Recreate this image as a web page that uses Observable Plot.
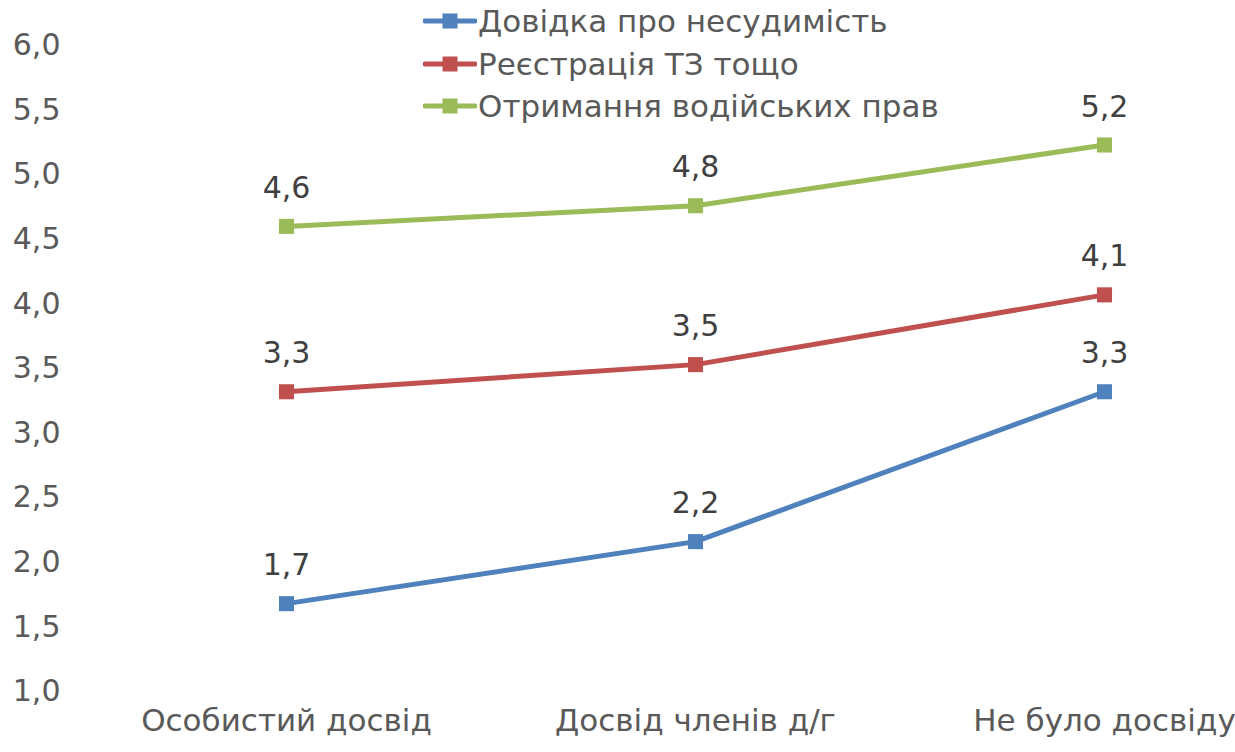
<!DOCTYPE html>
<html>
<head>
<meta charset="utf-8">
<script src="https://cdn.jsdelivr.net/npm/d3@7"></script>
<script src="https://cdn.jsdelivr.net/npm/@observablehq/plot@0.6"></script>
<style>
  html, body { margin: 0; padding: 0; background: #fff; }
  #wrap { position: relative; width: 1235px; height: 752px; overflow: hidden; }
  #legend { position: absolute; left: 423px; top: 0; font-family: "DejaVu Sans", sans-serif; font-size: 31px; color: #595959; }
  .row { display: flex; align-items: center; height: 42.5px; }
  .row svg { margin-right: 1px; }
</style>
</head>
<body>
<div id="wrap"><div id="legend"></div></div>
<script>
const categories = ["Особистий досвід", "Досвід членів д/г", "Не було досвіду"];
const seriesNames = ["Довідка про несудимість", "Реєстрація ТЗ тощо", "Отримання водійських прав"];
const certificate = [1.68, 2.16, 3.32];
const vehicleReg = [3.32, 3.53, 4.07];
const license = [4.60, 4.76, 5.23];
const yTicks = [1.0, 1.5, 2.0, 2.5, 3.0, 3.5, 4.0, 4.5, 5.0, 5.5, 6.0];
const colors = ["#4F81BD", "#C0504D", "#9BBB59"];

const FONT = "DejaVu Sans, sans-serif";
const fmt = d => d.toFixed(1).replace(".", ",");

const seriesValues = [certificate, vehicleReg, license];
const data = [];
seriesNames.forEach((s, i) => categories.forEach((c, j) => data.push({series: s, cat: c, value: seriesValues[i][j]})));

const chart = Plot.plot({
  width: 1235,
  height: 752,
  marginTop: 45,
  marginBottom: 61,
  marginLeft: 62,
  marginRight: 0,
  style: {fontFamily: FONT, fontSize: "30px", color: "#595959", background: "white"},
  x: {type: "point", domain: categories, range: [285, 1104], padding: 0, label: null},
  y: {domain: [1, 6], label: null},
  color: {domain: seriesNames, range: colors},
  marks: [
    Plot.axisY({ticks: yTicks, tickSize: 0, tickPadding: 2, tickFormat: fmt, label: null, fill: "#595959", fontSize: 30}),
    Plot.axisX({tickSize: 0, tickPadding: 17, label: null, fill: "#595959", fontSize: 31}),
    Plot.line(data, {x: "cat", y: "value", z: "series", stroke: "series", strokeWidth: 5}),
    Plot.dot(data, {x: "cat", y: "value", fill: "series", symbol: "square", r: 8.5}),
    Plot.text(data, {x: "cat", y: "value", text: d => fmt(d.value), dy: -38, fill: "#404040", fontSize: 30})
  ]
});
document.getElementById("wrap").prepend(chart);

const legend = document.getElementById("legend");
seriesNames.forEach((s, i) => {
  const row = document.createElement("div");
  row.className = "row";
  row.innerHTML = `<svg width="54" height="20"><line x1="2" x2="52" y1="10" y2="10" stroke="${colors[i]}" stroke-width="5" stroke-linecap="round"/><rect x="19.5" y="2.5" width="15" height="15" fill="${colors[i]}"/></svg><span>${s}</span>`;
  legend.appendChild(row);
});
</script>
</body>
</html>
